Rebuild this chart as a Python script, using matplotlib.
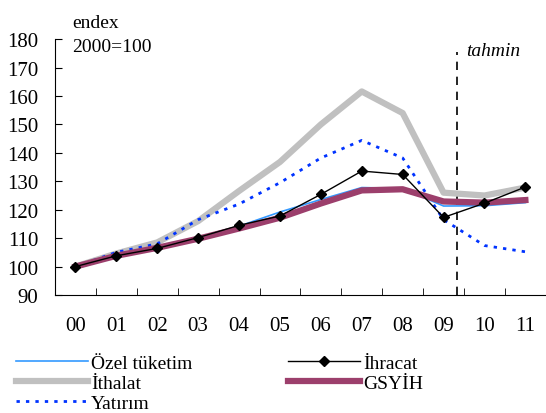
import numpy as np
import matplotlib
matplotlib.use("Agg")
from matplotlib import pyplot as plt

years = ["00", "01", "02", "03", "04", "05", "06", "07", "08", "09", "10", "11"]
ozel_tuketim = [100, 104.0, 106.8, 110.2, 114.2, 119.2, 123.6, 127.8, 127.5, 121.3, 121.4, 122.5]
ithalat = [100, 104.6, 108.5, 116.0, 126.6, 136.8, 150.0, 161.6, 154.0, 126.0, 125.0, 127.8]
yatirim = [100, 105.0, 108.0, 116.5, 122.0, 129.5, 138.2, 144.4, 138.2, 116.5, 107.4, 105.2]
ihracat = [100, 103.8, 106.4, 110.2, 114.5, 117.8, 125.4, 133.6, 132.4, 117.3, 122.3, 128.0]
gsyih = [100, 103.8, 106.6, 109.8, 113.4, 117.2, 122.2, 126.8, 127.2, 122.9, 122.5, 123.4]

plt.rcParams["font.family"] = ["Liberation Serif", "DejaVu Serif"]

fig = plt.figure(figsize=(5.46, 4.14), dpi=100)
ax = fig.add_axes([0.1007, 0.285, 0.899, 0.618])

x = np.arange(len(years))
l1, = ax.plot(x, ozel_tuketim, color="#3399ff", lw=1.2, label="Özel tüketim", zorder=3)
l2, = ax.plot(x, ithalat, color="#c0c0c0", lw=4.5, label="İthalat", zorder=1)
l3, = ax.plot(x, yatirim, color="#0033ff", lw=2, ls=(0, (1.2, 2.2)), label="Yatırım", zorder=2)
l4, = ax.plot(x, ihracat, color="black", lw=1, marker="D", ms=5, label="İhracat", zorder=5)
l5, = ax.plot(x, gsyih, color="#9c3f6c", lw=4.5, label="GSYİH", zorder=4)

ax.axvline(9.32, ymax=0.95, color="black", lw=1.2, ls=(0, (5, 4)))

ax.set_xlim(-0.5, 11.5)
ax.set_ylim(90, 180)
ax.set_yticks(np.arange(90, 181, 10))
ax.set_xticks(x)
ax.set_xticklabels(years)
ax.set_xticks(np.arange(0.5, 11, 1), minor=True)
ax.tick_params(axis="x", which="major", length=0, pad=15, labelsize=15)
ax.tick_params(axis="x", which="minor", direction="in", length=5)
ax.tick_params(axis="y", direction="in", length=5, labelsize=15, pad=12)
for s in ["top", "right"]:
    ax.spines[s].set_visible(False)

ax.text(0.035, 1.065, "endex", transform=ax.transAxes, fontsize=14, va="center")
ax.text(0.035, 0.97, "2000=100", transform=ax.transAxes, fontsize=14, va="center")
ax.text(9.55, 176, "tahmin", fontsize=14, style="italic", va="center")

leg_kw = dict(frameon=False, fontsize=14, handlelength=3.7, handletextpad=0.15,
              labelspacing=0.12, borderaxespad=0, borderpad=0)
fig.legend(handles=[l1, l2, l3], loc="upper left",
           bbox_to_anchor=(0.03, 0.142), **leg_kw)
fig.legend(handles=[l4, l5], loc="upper left",
           bbox_to_anchor=(0.528, 0.142), **leg_kw)

fig.savefig("out.png", dpi=100)
